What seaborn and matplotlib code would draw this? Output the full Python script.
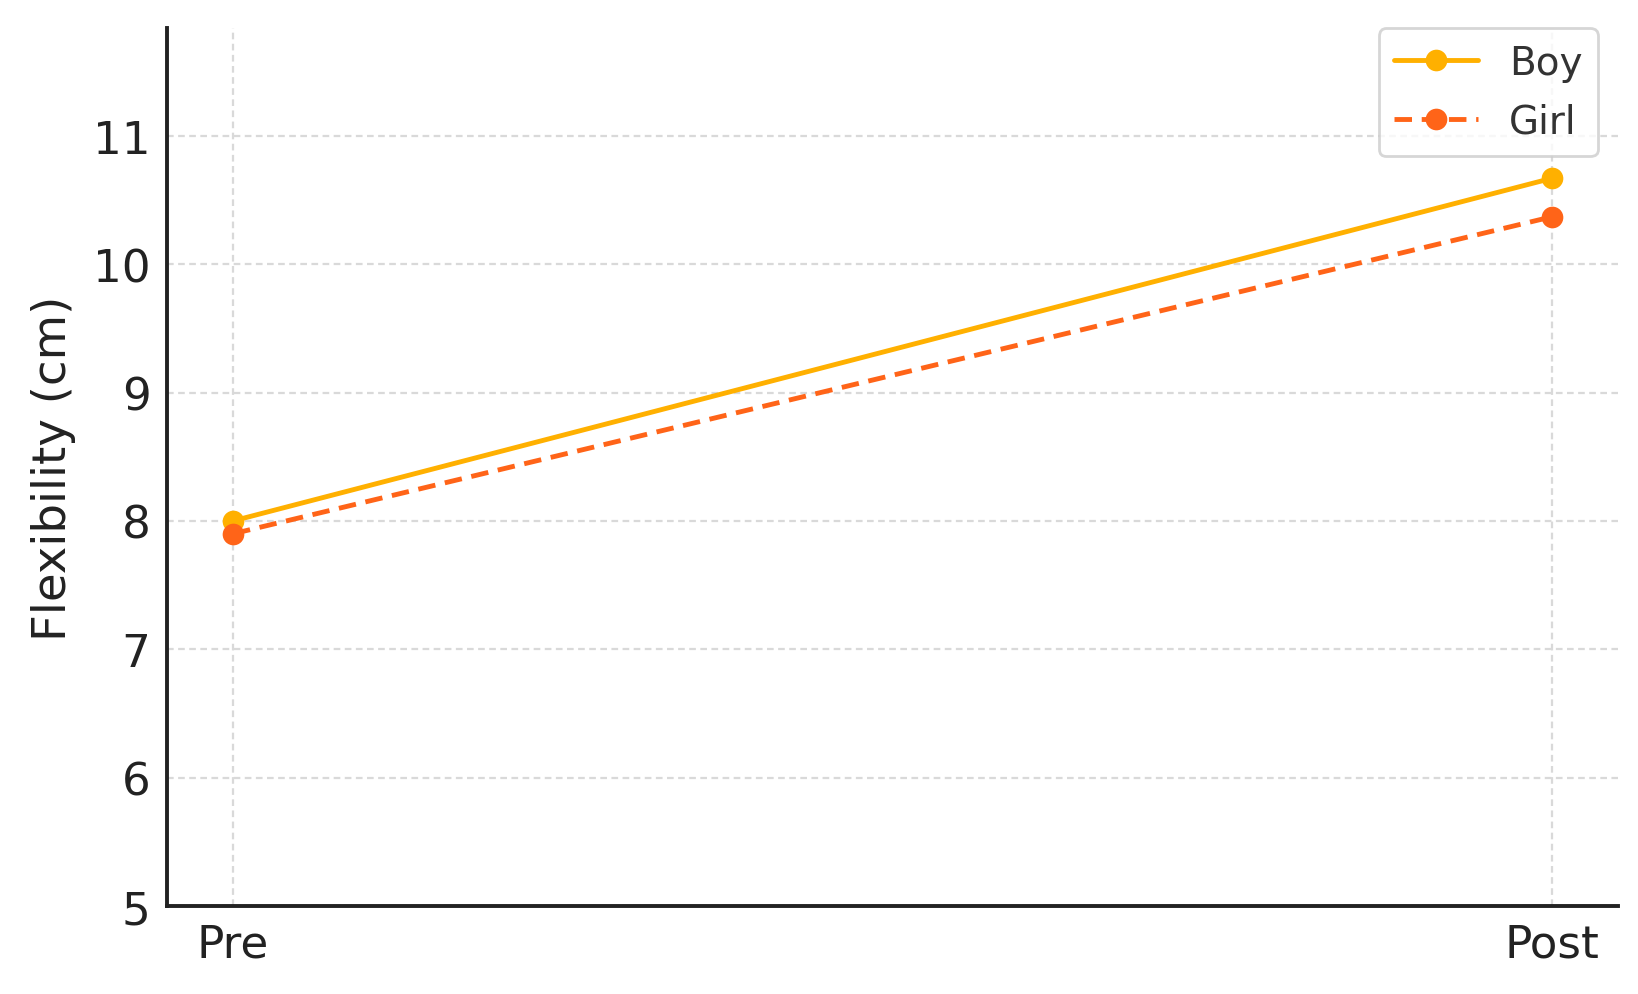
import matplotlib
matplotlib.use("Agg")
import matplotlib.pyplot as plt
import seaborn as sns
import pandas as pd

phases = ["Pre", "Post"]
boy = [8.0, 10.67]
girl = [7.9, 10.37]
groups = ["Boy", "Girl"]
colors = {"Boy": "#FFB000", "Girl": "#FF6418"}

df = pd.DataFrame({
    "Phase": phases * 2,
    "Flexibility": boy + girl,
    "Group": [groups[0]] * 2 + [groups[1]] * 2,
})

sns.set_style("white")
plt.rcParams['font.family'] = ['DejaVu Sans']

fig = plt.figure(figsize=(8.19, 4.975), dpi=200)
ax = fig.add_axes([0.102, 0.0884, 0.886, 0.8825])

sns.lineplot(data=df, x="Phase", y="Flexibility", hue="Group", style="Group",
             palette=colors, markers={"Boy": "o", "Girl": "o"},
             dashes={"Boy": "", "Girl": (3.6, 2.0)}, markersize=7.8, linewidth=1.75,
             markeredgewidth=0, ax=ax, sort=False)

ax.set_ylim(5, 11.84)
ax.set_xlim(-0.05, 1.05)
ax.set_yticks([5, 6, 7, 8, 9, 10, 11])
ax.set_xlabel("")
ax.set_ylabel("Flexibility (cm)", fontsize=16.8, color="#222222", labelpad=6)
ax.tick_params(axis="both", direction="in", length=4.5, width=1.2, labelsize=16.3,
               pad=6, colors="#222222")
ax.grid(True, linestyle=(0, (3, 2)), color="#d9d9d9", linewidth=0.8)
for s in ["top", "right"]:
    ax.spines[s].set_visible(False)
for s in ["left", "bottom"]:
    ax.spines[s].set_color("#222222")
    ax.spines[s].set_linewidth(1.4)

leg = ax.legend(loc="upper right", bbox_to_anchor=(0.986, 1.0), borderaxespad=0,
                fontsize=14, frameon=True, fancybox=True, handlelength=2.15,
                handletextpad=0.8, borderpad=0.4, labelspacing=0.55)
leg.get_frame().set_edgecolor("#cccccc")
leg.get_frame().set_linewidth(1.0)
for t in leg.get_texts():
    t.set_color("#333333")

fig.savefig("out.png", dpi=200)
